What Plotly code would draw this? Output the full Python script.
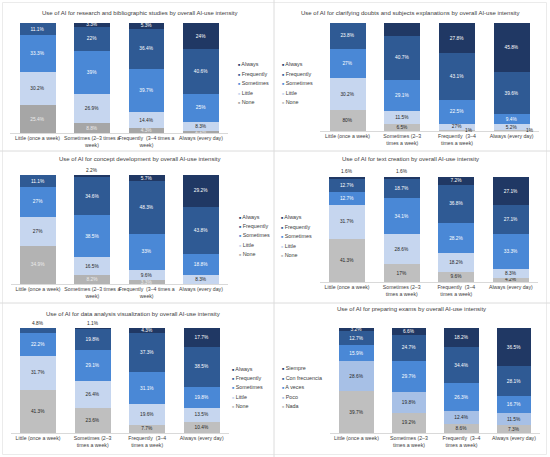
import plotly.graph_objects as go

W, H = 550, 457

CATEGORIES = ["Little (once a week)", "Sometimes (2–3 times a week)",
              "Frequently  (3–4 times a week)", "Always (every day)"]
TICKS_WIDE = ["Little (once a week)", "Sometimes (2–3 times a<br>week)",
              "Frequently  (3–4 times a<br>week)", "Always (every day)"]
TICKS_NARROW = ["Little (once a week)", "Sometimes (2–3<br>times a week)",
                "Frequently  (3–4<br>times a week)", "Always (every day)"]

SERIES_EN = ["None", "Little", "Sometimes", "Frequently", "Always"]
SERIES_ES = ["Nada", "Poco", "A veces", "Con frecuencia", "Siempre"]

TITLES = [
    "Use of AI for research and bibliographic studies by overall AI-use intensity",
    "Use of AI for clarifying doubts and subjects explanations by overall AI-use intensity",
    "Use of AI for concept development by overall AI-use intensity",
    "Use of AI for text creation by overall AI-use intensity",
    "Use of AI for data analysis visualization by overall AI-use intensity",
    "Use of AI for preparing exams by overall AI-use intensity",
]

# Panel 1: research and bibliographic studies
research_none = [25.4, 8.8, 4.3, 2.1]
research_little = [30.2, 26.9, 14.4, 8.3]
research_sometimes = [33.3, 39, 39.7, 25]
research_frequently = [11.1, 22, 36.4, 40.6]
research_always = [0, 3.3, 5.3, 24]

# Panel 2: clarifying doubts and subject explanations
doubts_none = [19, 6.5, 1, 1]
doubts_little = [30.2, 11.5, 5.6, 5.2]
doubts_sometimes = [27, 29.1, 22.5, 9.4]
doubts_frequently = [23.8, 40.7, 43.1, 39.6]
doubts_always = [0, 11.5, 27.8, 45.8]
doubts_none_labels = ["80%", "6.5%", "1%", "1%"]
doubts_little_labels = ["30.2%", "11.5%", "27%", "5.2%"]

# Panel 3: concept development
concept_none = [34.9, 8.2, 3.3, 0]
concept_little = [27, 16.5, 9.6, 8.3]
concept_sometimes = [27, 38.5, 33, 18.8]
concept_frequently = [11.1, 34.6, 48.3, 43.8]
concept_always = [0, 2.2, 5.7, 29.2]

# Panel 4: text creation
text_none = [41.3, 17, 9.6, 4.2]
text_little = [31.7, 28.6, 18.2, 8.3]
text_sometimes = [12.7, 34.1, 28.2, 33.3]
text_frequently = [12.7, 18.7, 36.8, 27.1]
text_always = [1.6, 1.6, 7.2, 27.1]

# Panel 5: data analysis visualization
data_none = [41.3, 23.6, 7.7, 10.4]
data_little = [31.7, 26.4, 19.6, 13.5]
data_sometimes = [22.2, 29.1, 31.1, 19.8]
data_frequently = [4.8, 19.8, 37.3, 38.5]
data_always = [0, 1.1, 4.3, 17.7]

# Panel 6: preparing exams
exams_nada = [39.7, 19.2, 8.6, 7.3]
exams_poco = [28.6, 19.8, 12.4, 11.5]
exams_aveces = [15.9, 29.7, 26.3, 16.7]
exams_confrecuencia = [12.7, 24.7, 34.4, 28.1]
exams_siempre = [3.2, 6.6, 18.2, 36.5]

C_ALWAYS = "#203864"
C_FREQ = "#2f5a94"
C_SOME = "#4a88d6"
C_LITTLE = "#c6d6ef"
C_NONE = "#bfbfbf"

FONT = "Liberation Sans, Arial, sans-serif"
FS_BAR = 4.8
FS_TICK = 5.2
FS_LEG = 5.4
FS_TITLE = 6.0


def fmt(v):
    return "" if v == 0 else f"{v:g}%"


def px_x(p):
    return p / W


def px_y(p):
    return 1 - p / H


panels = [
    dict(series=SERIES_EN,
         values=[research_none, research_little, research_sometimes, research_frequently, research_always],
         colors=["#a6a6a6", C_LITTLE, C_SOME, C_FREQ, C_ALWAYS],
         label_colors=["#ececec", "#262626", "white", "white", "white"],
         ticks=TICKS_WIDE, xd=(10.3, 228.2), yd=(23, 133), title=(139, 13),
         legend=(236, [64, 74, 83, 93, 102]), above=[], aside=[]),
    dict(series=SERIES_EN,
         values=[doubts_none, doubts_little, doubts_sometimes, doubts_frequently, doubts_always],
         labels={0: doubts_none_labels, 1: doubts_little_labels},
         colors=[C_NONE, C_LITTLE, C_SOME, C_FREQ, C_ALWAYS],
         label_colors=["#262626", "#262626", "white", "white", "white"],
         ticks=TICKS_NARROW, xd=(320.2, 539), yd=(23, 131), title=(410, 13),
         legend=(280, [64, 74, 83, 93, 102]), above=[],
         aside=[(0, 2, 12, 1), (0, 3, 18, 1)]),
    dict(series=SERIES_EN,
         values=[concept_none, concept_little, concept_sometimes, concept_frequently, concept_always],
         colors=["#b3b3b3", C_LITTLE, C_SOME, C_FREQ, C_ALWAYS],
         label_colors=["#ececec", "#262626", "white", "white", "white"],
         ticks=TICKS_WIDE, xd=(10.8, 228.2), yd=(175, 284), title=(140, 159),
         legend=(237, [217, 226, 235, 245, 254]), above=[(4, 1)], aside=[]),
    dict(series=SERIES_EN,
         values=[text_none, text_little, text_sometimes, text_frequently, text_always],
         colors=[C_NONE, C_LITTLE, C_SOME, C_FREQ, C_ALWAYS],
         label_colors=["#262626", "#262626", "white", "white", "white"],
         ticks=TICKS_NARROW, xd=(319.8, 538.2), yd=(177, 282), title=(410, 159),
         legend=(279, [217, 227, 236, 246, 255]), above=[(4, 0), (4, 1)], aside=[]),
    dict(series=SERIES_EN,
         values=[data_none, data_little, data_sometimes, data_frequently, data_always],
         colors=[C_NONE, C_LITTLE, C_SOME, C_FREQ, C_ALWAYS],
         label_colors=["#262626", "#262626", "white", "white", "white"],
         ticks=TICKS_NARROW, xd=(10.8, 229), yd=(328, 433), title=(133, 314),
         legend=(230, [369, 378, 387, 397, 406]), above=[(3, 0), (4, 1)], aside=[]),
    dict(series=SERIES_ES,
         values=[exams_nada, exams_poco, exams_aveces, exams_confrecuencia, exams_siempre],
         colors=[C_NONE, "#a7c0e6", C_SOME, C_FREQ, C_ALWAYS],
         label_colors=["#262626", "#262626", "white", "white", "white"],
         ticks=TICKS_NARROW, xd=(330.2, 540.2), yd=(328, 433), title=(411, 309),
         legend=(280, [368, 378, 387, 397, 406]), above=[], aside=[]),
]

fig = go.Figure()
annotations = []
layout_axes = {}

for i, p in enumerate(panels):
    n = i + 1
    xa = "x" if n == 1 else f"x{n}"
    ya = "y" if n == 1 else f"y{n}"
    special = {(s, c) for s, c in p["above"]} | {(a[0], a[1]) for a in p["aside"]}
    for si, name in enumerate(p["series"]):
        vals = p["values"][si]
        labs = p.get("labels", {}).get(si, [fmt(v) for v in vals])
        labs = ["" if (si, ci) in special else t for ci, t in enumerate(labs)]
        fig.add_trace(go.Bar(
            x=CATEGORIES, y=vals, name=name, xaxis=xa, yaxis=ya, width=0.66,
            marker=dict(color=p["colors"][si], line=dict(width=0)),
            text=labs, textposition="inside", insidetextanchor="middle",
            textangle=0, cliponaxis=False,
            textfont=dict(size=FS_BAR, color=p["label_colors"][si], family=FONT),
            showlegend=False, hoverinfo="skip",
        ))
    for si, ci in p["above"]:
        annotations.append(dict(
            x=CATEGORIES[ci], y=100, xref=xa, yref=ya, text=fmt(p["values"][si][ci]),
            showarrow=False, yanchor="bottom", yshift=0.5,
            font=dict(size=FS_BAR, color="#262626", family=FONT)))
    for si, ci, dx, dy in p["aside"]:
        labs = p.get("labels", {}).get(si, [fmt(v) for v in p["values"][si]])
        annotations.append(dict(
            x=CATEGORIES[ci], y=0, xref=xa, yref=ya, text=labs[ci],
            showarrow=False, yanchor="middle", xshift=dx, yshift=dy,
            font=dict(size=FS_BAR, color="#262626", family=FONT)))
    annotations.append(dict(
        x=px_x(p["title"][0]), y=px_y(p["title"][1]), xref="paper", yref="paper",
        text=TITLES[i], showarrow=False, xanchor="center", yanchor="middle",
        font=dict(size=FS_TITLE, color="#404040", family=FONT)))
    lx, lys = p["legend"]
    order = list(range(len(p["series"])))[::-1]
    for k, si in enumerate(order):
        annotations.append(dict(
            x=px_x(lx), y=px_y(lys[k]), xref="paper", yref="paper",
            text=f"<span style='font-size:3.6px;color:{p['colors'][si]}'>■</span> {p['series'][si]}",
            showarrow=False, xanchor="left", yanchor="middle",
            font=dict(size=FS_LEG, color="#404040", family=FONT)))
    xkey = "xaxis" if n == 1 else f"xaxis{n}"
    ykey = "yaxis" if n == 1 else f"yaxis{n}"
    layout_axes[xkey] = dict(
        domain=[px_x(p["xd"][0]), px_x(p["xd"][1])], anchor=ya, type="category",
        categoryorder="array", categoryarray=CATEGORIES,
        tickvals=CATEGORIES, ticktext=p["ticks"], tickangle=0, ticks="",
        tickfont=dict(size=FS_TICK, color="#404040", family=FONT),
        showline=True, linecolor="#d9d9d9", linewidth=1, showgrid=False,
        zeroline=False, fixedrange=True)
    layout_axes[ykey] = dict(
        domain=[px_y(p["yd"][1]), px_y(p["yd"][0])], anchor=xa, range=[0, 100],
        visible=False, showgrid=False, zeroline=False, fixedrange=True)

line_style = dict(color="#dcdcdc", width=1)
frame_style = dict(color="#ebebeb", width=1)
shapes = [
    dict(type="rect", xref="paper", yref="paper", x0=px_x(2.5), x1=px_x(546.5),
         y0=px_y(454.5), y1=px_y(2.5), line=frame_style),
    dict(type="line", xref="paper", yref="paper", x0=px_x(274), x1=px_x(274), y0=0, y1=1, line=line_style),
    dict(type="line", xref="paper", yref="paper", x0=0, x1=1, y0=px_y(151), y1=px_y(151), line=line_style),
    dict(type="line", xref="paper", yref="paper", x0=0, x1=1, y0=px_y(303), y1=px_y(303), line=line_style),
]

fig.update_layout(
    width=W, height=H, margin=dict(l=0, r=0, t=0, b=0),
    paper_bgcolor="white", plot_bgcolor="white",
    barmode="stack", barnorm="percent",
    uniformtext=dict(minsize=FS_BAR, mode="show"),
    font=dict(family=FONT, size=FS_TICK, color="#404040"),
    annotations=annotations, shapes=shapes, showlegend=False,
    **layout_axes,
)

fig.write_html(
    "out.html",
    config={"displayModeBar": False, "staticPlot": True},
    post_script="document.body.style.margin='0';document.body.style.overflow='hidden';",
)
